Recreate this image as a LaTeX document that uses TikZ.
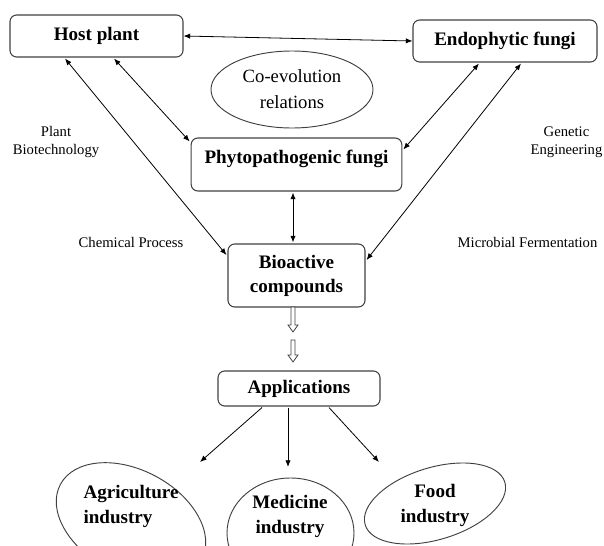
\documentclass[tikz,border=0pt]{standalone}
\usepackage{fontspec}
\setmainfont{Liberation Serif}
\usepackage{tikz}
\usetikzlibrary{arrows.meta}
\usetikzlibrary{shapes.geometric}
\usetikzlibrary{calc}

\tikzset{
  box/.style={draw=black!75, line width=0.8pt, rounded corners=5pt, align=center,
    inner sep=0pt, font=\bfseries\fontsize{14.3}{18}\selectfont},
  ell/.style={draw=black!75, line width=0.7pt, ellipse, inner sep=0pt},
  elltext/.style={font=\bfseries\fontsize{14.3}{18.75}\selectfont},
  lbl/.style={align=center, font=\fontsize{11}{13.5}\selectfont},
  dbl/.style={<->, line width=0.6pt},
  arr/.style={->, line width=0.6pt},
  hollow/.style={draw=black!75, line width=0.6pt, fill=white}
}

\begin{document}
\begin{tikzpicture}[x=0.75pt,y=-0.75pt,>={Latex[length=5pt,width=4pt]}]
    \useasboundingbox (0,0) rectangle (604,546);

    % boxes
    \node[box, minimum width=129.75pt, minimum height=31.5pt] (host) at (96.5,36) {Host plant};
    \node[box, minimum width=138pt, minimum height=31.5pt] (endo) at (505,41) {Endophytic fungi};
    \node[box, minimum width=158pt, minimum height=39.75pt, text depth=12pt] (phyto) at (296.5,164.5) {Phytopathogenic fungi};
    \node[box, minimum width=102.75pt, minimum height=47.25pt] (bio) at (296.5,275.5) {Bioactive\\compounds};
    \node[box, minimum width=121.5pt, minimum height=26.25pt] (app) at (299,388.5) {Applications};

    \node[ell, minimum width=121.5pt, minimum height=57.75pt, align=center,
      font=\fontsize{14}{19.5}\selectfont] (coevo) at (292,89.5) {Co-evolution\\relations};

    % side labels
    \node[lbl] (plantbio) at (56,142) {Plant\\Biotechnology};
    \node[lbl] (geneng) at (566.5,142) {Genetic\\Engineering};
    \node[lbl] (chem) at (131,242) {Chemical Process};
    \node[lbl] (ferm) at (527.5,242) {Microbial Fermentation};

    % industries
    \node[ell, minimum width=120pt, minimum height=78pt, rotate=-28] (agri) at (131,522) {};
    \node[ell, minimum width=95.25pt, minimum height=82.5pt] (med) at (290.5,533) {};
    \node[ell, minimum width=109.5pt, minimum height=54pt, rotate=17] (food) at (435,503.5) {};
    \node[elltext, align=left] (agritxt) at (131,506) {Agriculture\\industry};
    \node[elltext, align=center] (medtxt) at (290,516) {Medicine\\industry};
    \node[elltext, align=center] (foodtxt) at (435,505.5) {Food\\industry};

    \coordinate (agritip) at (200,462);
    \coordinate (medtip) at (288,467);
    \coordinate (foodtip) at (379,462);

    % connectors
    \draw[dbl] (host.east) -- (endo.west);
    \draw[dbl] ($(host.south)+(-31.5,1)$) -- ($(bio.west)+(-1,-20.5)$);
    \draw[dbl] ($(host.south)+(17.5,1)$) -- ($(phyto.north west)+(-1,4)$);
    \draw[dbl] ($(endo.south)+(-26,1)$) -- ($(phyto.north east)+(1,12)$);
    \draw[dbl] ($(endo.south)+(16,1)$) -- ($(bio.east)+(1,-15.5)$);
    \draw[dbl] ($(phyto.south)+(-3.5,1)$) -- ($(bio.north)+(-3.5,-1)$);

    \foreach \ya/\yb in {307/332, 340/362}
      \draw[hollow] (291,\ya) -- (291,\yb-7) -- (288,\yb-7) -- (293,\yb)
        -- (298,\yb-7) -- (295,\yb-7) -- (295,\ya) -- cycle;

    \draw[arr] ($(app.south)+(-37,1)$) -- (agritip);
    \draw[arr] ($(app.south)+(-11,1)$) -- (medtip);
    \draw[arr] ($(app.south)+(30,1)$) -- (foodtip);
\end{tikzpicture}
\end{document}
